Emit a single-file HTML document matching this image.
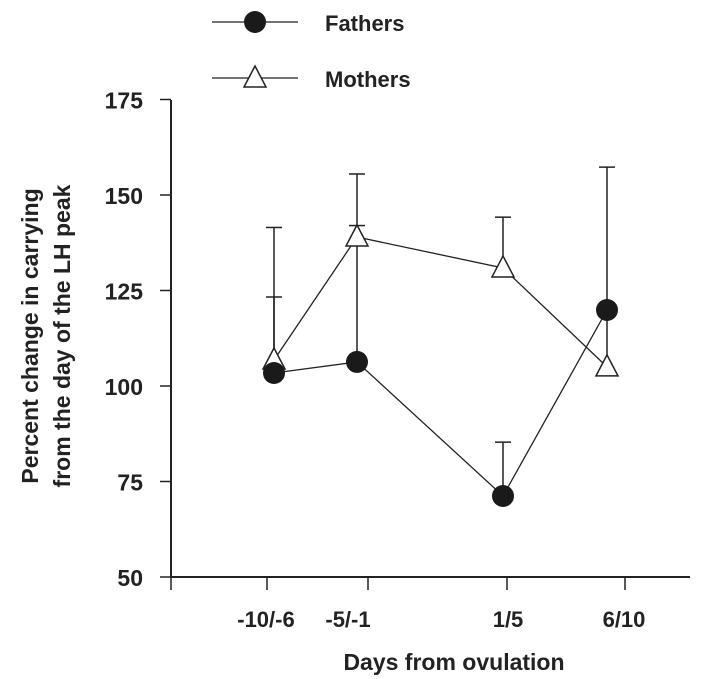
<!DOCTYPE html>
<html><head><meta charset="utf-8"><style>
body{margin:0;background:#fff}
svg{display:block;font-family:"Liberation Sans",Arial,sans-serif;font-weight:bold}
</style></head><body>
<svg width="701" height="679" viewBox="0 0 701 679" xmlns="http://www.w3.org/2000/svg">
<g id="root"></g>
</svg>
<script>
const categories=["-10/-6","-5/-1","1/5","6/10"];
const fathers=[103.4,106.3,71.2,119.9];
const fathersErr=[123.3,142,85.3,157.3];
const mothers=[106.8,139,130.9,105];
const mothersErr=[141.5,155.5,144.2,119];
const yTicks=[50,75,100,125,150,175];

const NS="http://www.w3.org/2000/svg";
const root=document.getElementById('root');
const tickX=[267,368,507,625];
const labelX=[266,348,508,624];
const ptOff=[7,-11,-4,-18];
function y(v){return 577-(v-50)*3.82;}
function mk(tag,attrs,parent){const e=document.createElementNS(NS,tag);for(const k in attrs)e.setAttribute(k,attrs[k]);(parent||root).appendChild(e);return e;}

let ax=mk('line',{x1:171,y1:100,x2:171,y2:578,stroke:'#222','stroke-width':2});


let bx=mk('line',{x1:170,y1:577,x2:690,y2:577,stroke:'#222','stroke-width':2});


mk('line',{x1:171,y1:577,x2:171,y2:590,stroke:'#222','stroke-width':1.5});
yTicks.forEach(v=>{
  let t=mk('line',{x1:160,y1:y(v),x2:171,y2:y(v),stroke:'#222','stroke-width':1.5});
  
  
  let l=mk('text',{x:143,y:y(v)+9,'text-anchor':'end','font-size':23,fill:'#222'});
  l.textContent=v;
  
  
});
categories.forEach((c,i)=>{
  let t=mk('line',{x1:tickX[i],y1:577,x2:tickX[i],y2:590,stroke:'#222','stroke-width':1.5});
  
  
  let l=mk('text',{x:labelX[i],y:627,'text-anchor':'middle','font-size':22,fill:'#222'});
  l.textContent=c;
  
  
});
let xt=mk('text',{x:454,y:670,'text-anchor':'middle','font-size':23,fill:'#222'});
xt.textContent='Days from ovulation';


let yt=mk('text',{transform:'translate(38,336) rotate(-90)','text-anchor':'middle','font-size':23,fill:'#222'});


let s1=mk('tspan',{x:0,dy:0},yt);s1.textContent='Percent change in carrying';
let s2=mk('tspan',{x:0,dy:32},yt);s2.textContent='from the day of the LH peak';

function err(xs,vals,errs,name){
  vals.forEach((v,i)=>{
    let g=mk('g',{stroke:'#222','stroke-width':1.5});
    
    
    mk('line',{x1:xs[i],y1:y(v),x2:xs[i],y2:y(errs[i])},g);
    mk('line',{x1:xs[i]-8,y1:y(errs[i]),x2:xs[i]+8,y2:y(errs[i])},g);
  });
}
const px=tickX.map((t,i)=>t+ptOff[i]);
err(px,mothers,mothersErr,'mothers-error-bar');
err(px,fathers,fathersErr,'fathers-error-bar');
let ml=mk('polyline',{points:mothers.map((v,i)=>px[i]+','+y(v)).join(' '),fill:'none',stroke:'#222','stroke-width':1.3});


let fl=mk('polyline',{points:fathers.map((v,i)=>px[i]+','+y(v)).join(' '),fill:'none',stroke:'#222','stroke-width':1.3});


function tri(cx,cy){return (cx)+','+(cy-12)+' '+(cx-11)+','+(cy+9)+' '+(cx+11)+','+(cy+9);}
mothers.forEach((v,i)=>{
  let p=mk('polygon',{points:tri(px[i],y(v)),fill:'#fff',stroke:'#222','stroke-width':1.5});
  
  
});
fathers.forEach((v,i)=>{
  let c=mk('circle',{cx:px[i],cy:y(v),r:11,fill:'#1a1a1a'});
  
  
});

let lg1=mk('g',{});


mk('line',{x1:212,y1:22,x2:298,y2:22,stroke:'#222','stroke-width':1.3},lg1);
mk('circle',{cx:255,cy:22,r:11,fill:'#1a1a1a'},lg1);
let t1=mk('text',{x:325,y:31,'font-size':22,fill:'#222'},lg1);t1.textContent='Fathers';
let lg2=mk('g',{});


mk('line',{x1:212,y1:78,x2:298,y2:78,stroke:'#222','stroke-width':1.3},lg2);
mk('polygon',{points:tri(255,78),fill:'#fff',stroke:'#222','stroke-width':1.5},lg2);
let t2=mk('text',{x:325,y:87,'font-size':22,fill:'#222'},lg2);t2.textContent='Mothers';
</script>
</body></html>
